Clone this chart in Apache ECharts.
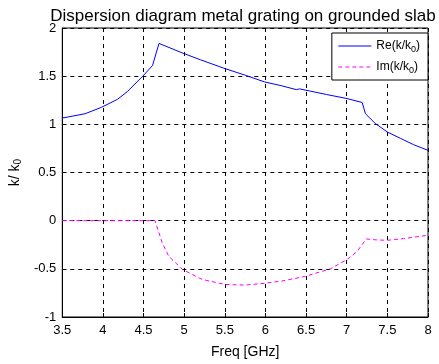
<!DOCTYPE html>
<html>
<head>
<meta charset="utf-8">
<script src="https://cdn.jsdelivr.net/npm/echarts@6/dist/echarts.min.js"></script>
<style>
  html, body { margin: 0; padding: 0; background: #fff; }
  #chart { width: 439px; height: 364px; }
</style>
</head>
<body>
<div id="chart"></div>
<script>
// Re(k/k0): [freq GHz, value]
const reData = [
  [3.5, 1.065], [3.78, 1.11], [3.98, 1.176], [4.18, 1.26], [4.3, 1.34],
  [4.49, 1.5], [4.61, 1.61], [4.69, 1.84], [4.98, 1.74], [5.2, 1.67],
  [5.48, 1.585], [5.75, 1.51], [5.99, 1.44], [6.2, 1.4], [6.38, 1.36],
  [6.42, 1.368], [6.54, 1.347], [6.75, 1.31], [6.99, 1.27], [7.19, 1.227],
  [7.23, 1.11], [7.35, 1.01], [7.5, 0.92], [7.66, 0.855], [7.82, 0.79],
  [8.0, 0.73]
];

// Im(k/k0)
const imData = [
  [3.5, 0], [4.0, 0], [4.5, 0], [4.64, 0], [4.73, -0.23], [4.81, -0.37],
  [4.98, -0.507], [5.22, -0.61], [5.5, -0.662], [5.75, -0.669],
  [5.99, -0.65], [6.2, -0.627], [6.48, -0.58], [6.8, -0.5], [7.01, -0.4],
  [7.13, -0.317], [7.24, -0.19], [7.37, -0.2], [7.5, -0.204], [7.7, -0.186],
  [8.0, -0.152]
];

const seriesNames = ["Re(k/k{s|0})", "Im(k/k{s|0})"];

const chart = echarts.init(document.getElementById("chart"), null, { renderer: "canvas" });

const font = "Liberation Sans, Arial, Helvetica, sans-serif";
const gridLine = { show: true, lineStyle: { color: "#000", type: [4, 4], width: 1 } };

chart.setOption({
  backgroundColor: "#fff",
  animation: false,
  textStyle: { fontFamily: font },
  title: {
    text: "Dispersion diagram metal grating on grounded slab",
    left: 238, top: 3, textAlign: "center",
    textStyle: { color: "#000", fontSize: 17, fontWeight: "normal", fontFamily: font }
  },
  grid: {
    left: 59, right: 11, top: 28, bottom: 47,
    show: true, borderColor: "#000", borderWidth: 1
  },
  legend: {
    orient: "vertical",
    right: 11, top: 33,
    itemWidth: 33, itemHeight: 10, itemGap: 7,
    padding: [7, 8, 5, 6],
    borderColor: "#000", borderWidth: 1, borderRadius: 0,
    backgroundColor: "#fff",
    itemStyle: { opacity: 0 },
    lineStyle: { width: 1 },
    textStyle: {
      color: "#000", fontSize: 12, fontFamily: font,
      rich: { s: { fontSize: 9, verticalAlign: "bottom", padding: [7, 0, 0, 0], fontFamily: font } }
    },
    data: seriesNames
  },
  xAxis: {
    type: "value",
    min: 3.5, max: 8, interval: 0.5,
    name: "Freq [GHz]",
    nameLocation: "middle", nameGap: 28,
    nameTextStyle: { color: "#000", fontSize: 14, fontFamily: font },
    axisLine: { show: true, onZero: false, lineStyle: { color: "#000", width: 1 } },
    axisTick: { show: true, inside: true, length: 4, lineStyle: { color: "#000" } },
    axisLabel: { color: "#000", fontSize: 13, margin: 7, fontFamily: font },
    splitLine: gridLine
  },
  yAxis: {
    type: "value",
    min: -1, max: 2, interval: 0.5,
    name: "k/ k{s|0}",
    nameLocation: "middle", nameGap: 33, nameRotate: 90,
    nameTextStyle: {
      color: "#000", fontSize: 14, fontFamily: font,
      rich: { s: { fontSize: 10, verticalAlign: "bottom", padding: [6, 0, 0, 0], fontFamily: font } }
    },
    axisLine: { show: true, onZero: false, lineStyle: { color: "#000", width: 1 } },
    axisTick: { show: true, inside: true, length: 4, lineStyle: { color: "#000" } },
    axisLabel: { color: "#000", fontSize: 13, margin: 6, fontFamily: font },
    splitLine: gridLine
  },
  series: [
    {
      name: seriesNames[0],
      type: "line",
      data: reData,
      symbol: "none",
      lineStyle: { color: "#0000ff", width: 1 },
      itemStyle: { color: "#0000ff" }
    },
    {
      name: seriesNames[1],
      type: "line",
      data: imData,
      symbol: "none",
      lineStyle: { color: "#ff00ff", width: 1, type: [4, 3] },
      itemStyle: { color: "#ff00ff" }
    }
  ]
});
</script>
</body>
</html>
